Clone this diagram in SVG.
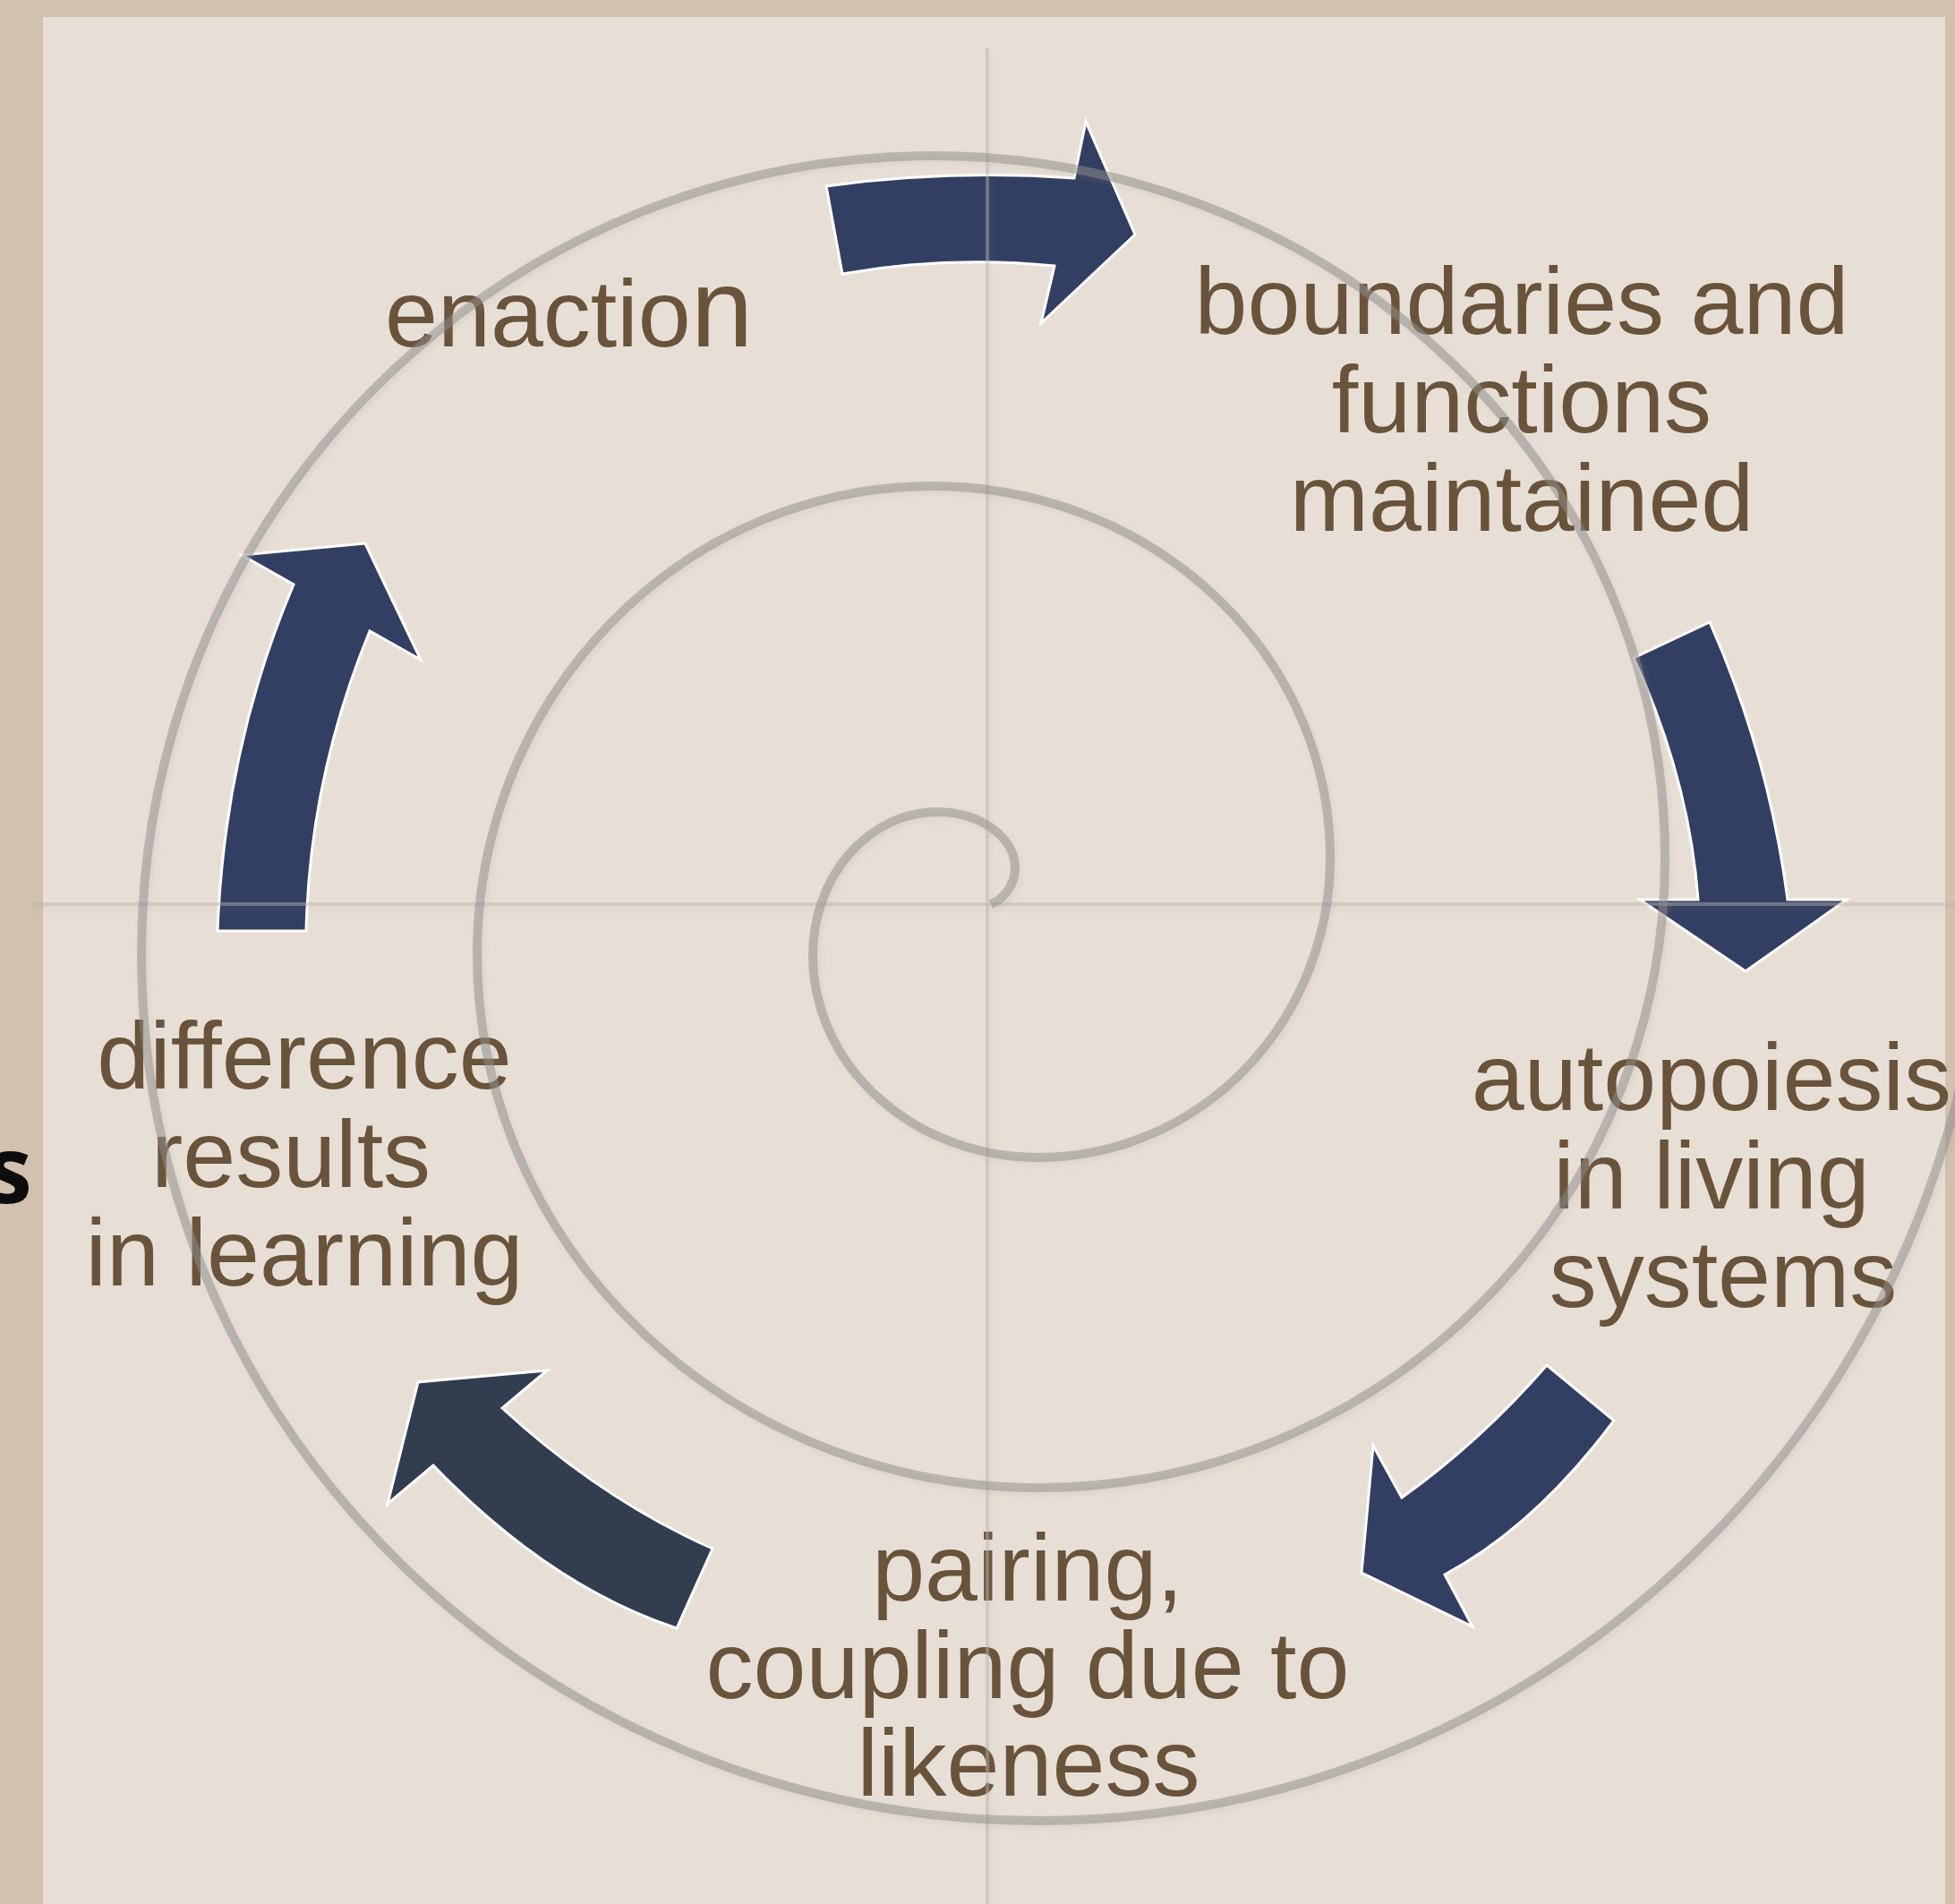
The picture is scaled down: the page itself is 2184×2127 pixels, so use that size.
<svg xmlns="http://www.w3.org/2000/svg" width="2184" height="2127" viewBox="0 0 2184 2127">
<defs>
<style>
.lbl{font-family:"Liberation Sans",Arial,sans-serif;font-size:106px;fill:#6A533B;text-anchor:middle}
.arrow{fill:#333F62;stroke:#FFFFFF;stroke-width:3;stroke-linejoin:miter}
.cross{stroke:#B8B4B0;stroke-opacity:0.45;stroke-width:4;fill:none}
.spiral{fill:none;stroke:#8E8C8A;stroke-opacity:0.5;stroke-width:10;stroke-linecap:butt}
</style>
<filter id="sh" x="-5%" y="-5%" width="110%" height="110%">
<feDropShadow dx="3" dy="4" stdDeviation="3" flood-color="#9C8C7A" flood-opacity="0.25"/>
</filter>
</defs>
<rect x="0" y="0" width="2184" height="2127" fill="#D3C1AF"/>
<rect x="48" y="19" width="2125" height="2108" fill="#E7DFD6"/>
<text x="36" y="1344" font-family="'Open Sans','DejaVu Sans',sans-serif" font-weight="700" font-size="104" fill="#0D0D0D" text-anchor="end">s</text>
<g id="connectors">
<path id="arrow1" class="arrow" d="M 923 208 Q 1061 189 1200 199 L 1213 136 L 1268 262 L 1163 361 L 1178 297 Q 1060 285 941 306 Z"/>
<path id="arrow2" class="arrow" d="M 1825 735 L 1910 695 Q 1976 844 1997 1005 L 2063 1005 L 1950 1085 L 1832 1005 L 1897 1005 Q 1887 870 1825 735 Z"/>
<path id="arrow3" class="arrow" d="M 1728 1525 L 1803 1587 Q 1715 1705 1614 1759 L 1645 1817 L 1521 1757 L 1534 1615 L 1566 1673 Q 1653 1611 1728 1525 Z"/>
<path id="arrow4" class="arrow" style="fill:#323E4F" d="M 796 1730 L 756 1819 Q 614 1772 484 1637 L 433 1680 L 467 1544 L 611 1531 L 561 1573 Q 672 1675 796 1730 Z"/>
<path id="arrow5" class="arrow" d="M 243 1040 L 342 1040 Q 346 868 413 705 L 470 737 L 408 607 L 270 620 L 328 653 Q 251 834 243 1040 Z"/>
</g>
<g id="enaction"><text class="lbl" x="430" y="387" style="text-anchor:start">enactio<tspan font-size="125">n</tspan></text></g>
<g id="boundaries">
<text class="lbl" x="1700" y="373">boundaries and</text>
<text class="lbl" x="1700" y="483">functions</text>
<text class="lbl" x="1700" y="593">maintained</text>
</g>
<g id="autopoiesis">
<text class="lbl" x="1912" y="1240">autopoiesis</text>
<text class="lbl" x="1912" y="1350">in living</text>
<text class="lbl" x="1925" y="1460">systems</text>
</g>
<g id="pairing">
<text class="lbl" x="1148" y="1788">pairing,</text>
<text class="lbl" x="1148" y="1897">coupling due to</text>
<text class="lbl" x="1149" y="2006">likeness</text>
</g>
<g id="difference">
<text class="lbl" x="340" y="1216">difference</text>
<text class="lbl" x="325" y="1326">results</text>
<text class="lbl" x="340" y="1436">in learning</text>
</g>
<g id="axes" filter="url(#sh)">
<line class="cross" x1="1103" y1="53" x2="1103" y2="2127"/>
<line class="cross" x1="35" y1="1010" x2="2184" y2="1010"/>
</g>
<g id="spiral" filter="url(#sh)">
<path class="spiral" d="M 1107 1010 A 45 45 0 0 0 1134 970 A 87 63 0 0 0 1047 907 A 139 160 0 0 0 908 1067 A 252 226 0 0 0 1160 1293 A 326 335 0 0 0 1486 958 A 444 415 0 0 0 1042 543 A 509 523 0 0 0 533 1066 A 627 596 0 0 0 1160 1662 A 700 704 0 0 0 1860 958 A 818 784 0 0 0 1042 174 A 884 892 0 0 0 158 1066 A 1002 968 0 0 0 1160 2034 A 1060 1076 0 0 0 2220 958"/>
</g>
</svg>
